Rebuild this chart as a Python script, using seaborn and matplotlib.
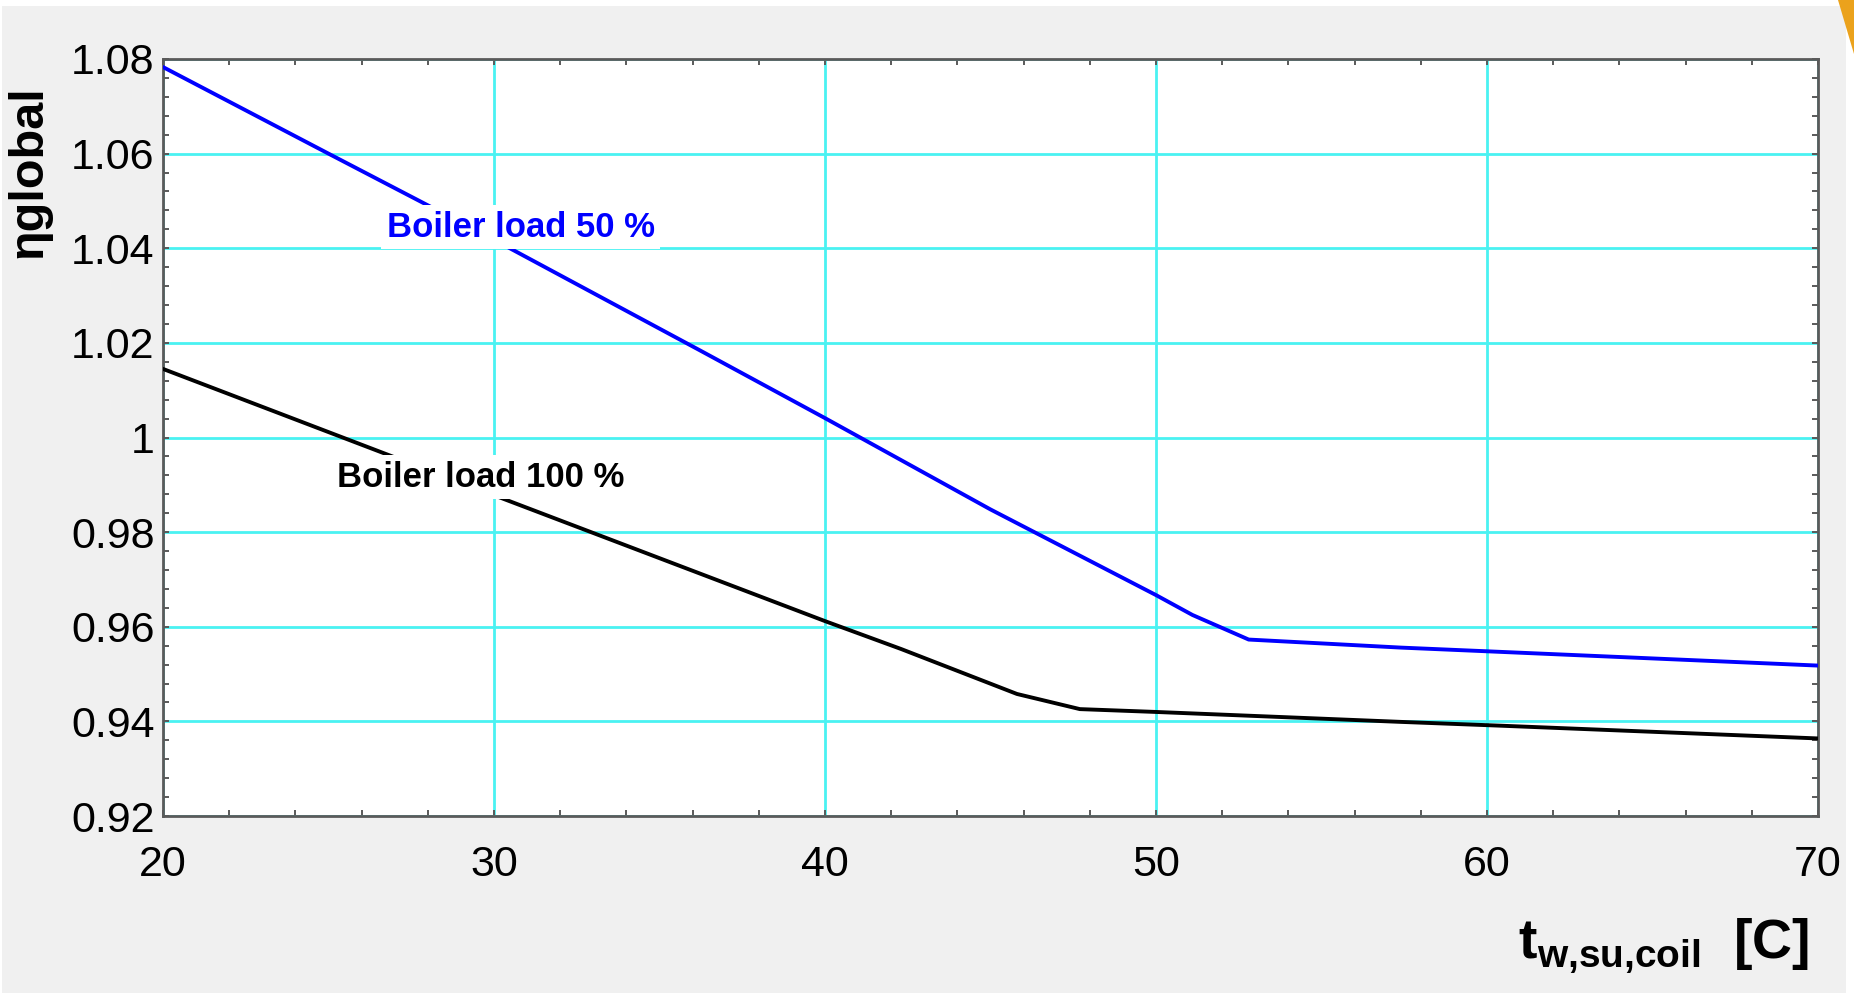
import numpy as np
import pandas as pd
import matplotlib
matplotlib.use("Agg")
import matplotlib.pyplot as plt
import seaborn as sns
from matplotlib.ticker import MultipleLocator, FixedLocator
from matplotlib.patches import Rectangle, Polygon

# ---- data ----
x_load50 = [20, 25, 30, 36.2, 40, 45, 50, 51.1, 52.8, 57.4, 60.4, 70]
eta_load50 = [1.0783, 1.0600, 1.0418, 1.0185, 1.0041, 0.9848, 0.9667, 0.9625,
              0.9573, 0.9556, 0.9547, 0.9518]
x_load100 = [20, 30, 40, 42.3, 45.8, 47.7, 50, 57.4, 60.4, 70]
eta_load100 = [1.0145, 0.9878, 0.9612, 0.9553, 0.9458, 0.9426, 0.9420,
               0.9399, 0.9391, 0.9364]
series_names = ["Boiler load 50 %", "Boiler load 100 %"]
series_colors = ["#0000ff", "#000000"]
x_ticks = [20, 30, 40, 50, 60, 70]
y_ticks = [0.92, 0.94, 0.96, 0.98, 1.0, 1.02, 1.04, 1.06, 1.08]
y_ticklabels = ["0.92", "0.94", "0.96", "0.98", "1", "1.02", "1.04", "1.06", "1.08"]

df = pd.concat([
    pd.DataFrame({"t": x_load50, "eta": eta_load50, "series": series_names[0]}),
    pd.DataFrame({"t": x_load100, "eta": eta_load100, "series": series_names[1]}),
], ignore_index=True)

sns.set_style("ticks")
plt.rcParams["font.family"] = ["Liberation Sans", "DejaVu Sans"]
plt.rcParams["mathtext.fontset"] = "custom"
plt.rcParams["mathtext.rm"] = "Liberation Sans"
plt.rcParams["mathtext.bf"] = "Liberation Sans:bold"

BG = "#f0f0f0"
fig = plt.figure(figsize=(18.54, 9.93), dpi=100, facecolor=BG)
# white borders / corner artifact from the screenshot
fig.add_artist(Rectangle((0, 0.994), 1, 0.006, transform=fig.transFigure,
                         facecolor="white", edgecolor="none", zorder=0))
fig.add_artist(Rectangle((0, 0), 0.0011, 1, transform=fig.transFigure,
                         facecolor="white", edgecolor="none", zorder=0))
fig.add_artist(Rectangle((0.9957, 0), 0.0043, 1, transform=fig.transFigure,
                         facecolor="white", edgecolor="none", zorder=0))
fig.add_artist(Polygon([(0.9914, 1.0), (1.0, 1.0), (1.0, 0.946)], closed=True,
                       transform=fig.transFigure, facecolor="#eba21c",
                       edgecolor="none", zorder=1))

ax = fig.add_axes([0.0879, 0.1782, 0.8927, 0.7624])
ax.set_facecolor("white")

sns.lineplot(data=df, x="t", y="eta", hue="series", hue_order=series_names,
             palette=series_colors, estimator=None, sort=False,
             linewidth=2.8, legend=False, ax=ax, zorder=3)

ax.set_xlim(20, 70)
ax.set_ylim(0.92, 1.08)
ax.xaxis.set_major_locator(FixedLocator(x_ticks))
ax.yaxis.set_major_locator(FixedLocator(y_ticks))
ax.set_yticklabels(y_ticklabels)
ax.xaxis.set_minor_locator(MultipleLocator(2))
ax.yaxis.set_minor_locator(MultipleLocator(0.004))

ax.grid(True, which="major", color="#4af2f2", linewidth=2.0, zorder=1)
ax.set_axisbelow(True)

for sp in ax.spines.values():
    sp.set_visible(True)
    sp.set_color("#5a5a5a")
    sp.set_linewidth(2.0)

ax.tick_params(axis="both", which="both", direction="in", top=True, right=True,
               colors="#5a5a5a", labelcolor="black")
ax.tick_params(axis="both", which="major", length=4, width=1.4, labelsize=31)
ax.tick_params(axis="both", which="minor", length=4, width=1.4)
ax.tick_params(axis="x", which="major", pad=21)
ax.tick_params(axis="y", which="major", pad=6)

# curve labels
ax.text(26.76, 1.0424, series_names[0], color=series_colors[0], fontsize=25,
        fontweight="bold", ha="left", va="baseline", zorder=5,
        bbox=dict(facecolor="white", edgecolor="none", pad=4))
ax.text(25.25, 0.9896, series_names[1], color=series_colors[1], fontsize=25,
        fontweight="bold", ha="left", va="baseline", zorder=5,
        bbox=dict(facecolor="white", edgecolor="none", pad=4))

ax.set_ylabel("ηglobal", fontsize=35, fontweight="bold", color="black")
ax.yaxis.set_label_coords(-0.0675, 0.851)
ax.yaxis.label.set_va("bottom")

ax.set_xlabel(r"$\mathbf{t}_{\mathbf{w{,}su{,}coil}}$  [C]", fontsize=40,
              fontweight="bold", color="black", ha="right")
ax.xaxis.set_label_coords(0.995, -0.132)

fig.savefig("out.png", dpi=100, facecolor=BG)
